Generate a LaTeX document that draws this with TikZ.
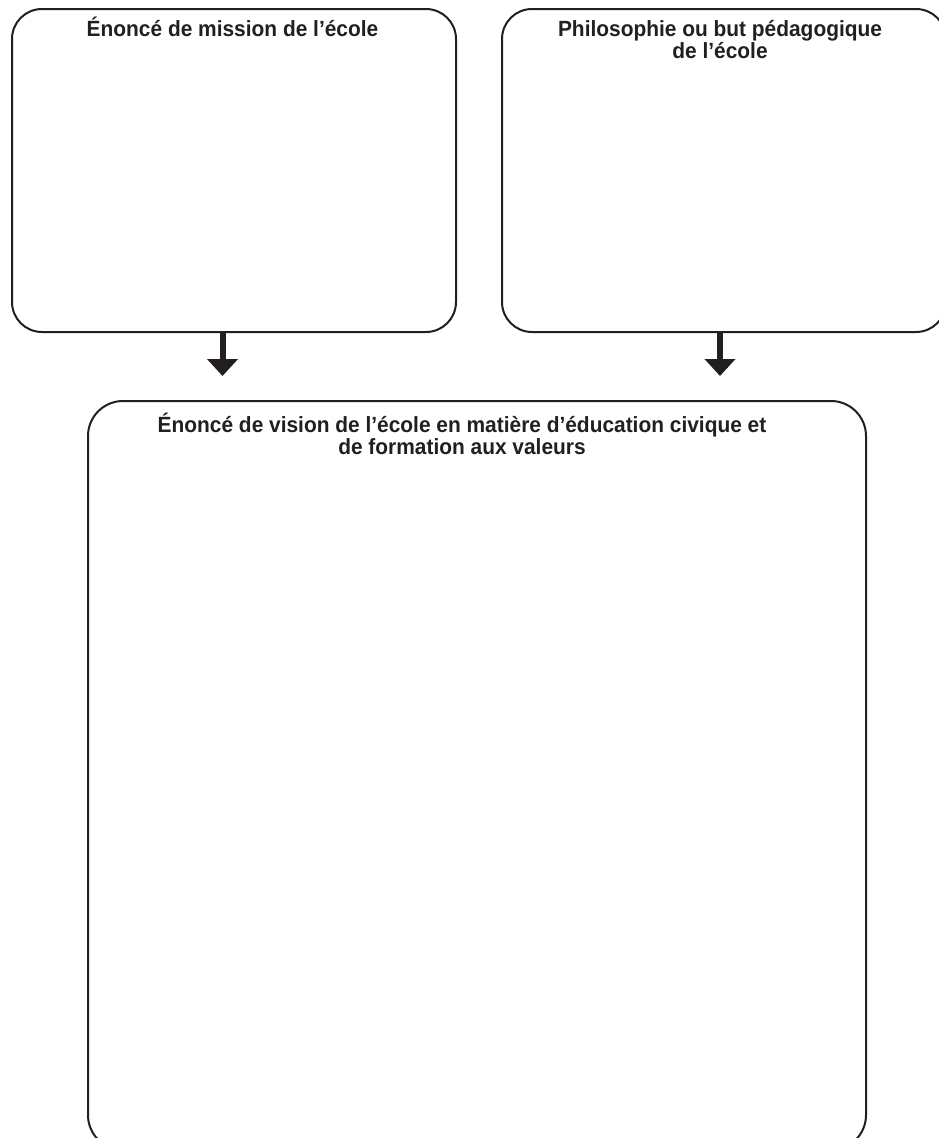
\documentclass[tikz,border=0pt]{standalone}
\usepackage{fontspec}
\setmainfont{Liberation Sans}[FakeStretch=0.95]
\usetikzlibrary{arrows.meta}
\definecolor{ink}{HTML}{231F20}
\begin{document}
\begin{tikzpicture}[x=1pt,y=1pt,
  box/.style={draw=ink,line width=2pt,rounded corners=30pt,inner sep=0pt},
  title/.style={font=\bfseries\fontsize{22}{20.5}\selectfont,text=ink,align=center,inner sep=0pt,anchor=north},
  arr/.style={draw=ink,line width=6pt,-{Triangle[width=30pt,length=17pt]}}]
\useasboundingbox (0,0) rectangle (939,-1138);
\node[box,minimum width=444pt,minimum height=323pt] (mission) at (234,-170.5) {};
\node[box,minimum width=444pt,minimum height=323pt] (philo) at (724,-170.5) {};
\node[box,rounded corners=35pt,minimum width=778pt,minimum height=749pt] (vision) at (477,-775.5) {};
\node[title] (tm) at (232.5,-17) {Énoncé de mission de l’école};
\node[title] (tp) at (720,-20) {Philosophie ou but pédagogique\\de l’école};
\node[title] (tv) at (462,-413) {Énoncé de vision de l’école en matière d’éducation civique et\\de formation aux valeurs};
\coordinate (t1) at (222.5,-376);
\coordinate (t2) at (720,-376);
\draw[arr] (mission.south -| t1) -- (t1);
\draw[arr] (philo.south -| t2) -- (t2);
\end{tikzpicture}
\end{document}
